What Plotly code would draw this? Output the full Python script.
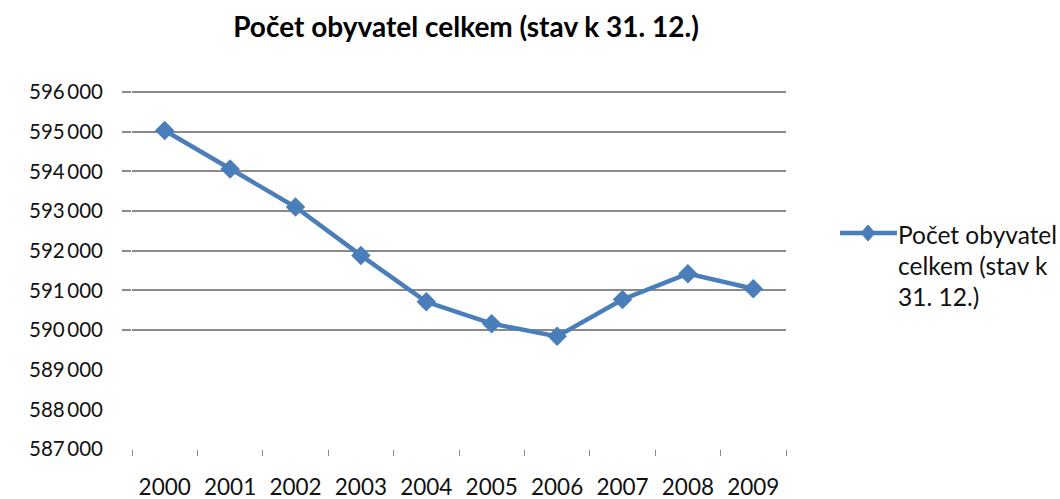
import plotly.graph_objects as go

years = ["2000", "2001", "2002", "2003", "2004", "2005", "2006", "2007", "2008", "2009"]
population = [595030, 594060, 593100, 591880, 590710, 590160, 589840, 590770, 591420, 591040]
series_name = "Počet obyvatel<br>celkem (stav k<br>31. 12.)"
title_text = "Počet obyvatel celkem (stav k 31. 12.)"
y_ticks = [587000, 588000, 589000, 590000, 591000, 592000, 593000, 594000, 595000, 596000]
y_tick_text = ["587\u2009000", "588\u2009000", "589\u2009000", "590\u2009000", "591\u2009000",
               "592\u2009000", "593\u2009000", "594\u2009000", "595\u2009000", "596\u2009000"]
grid_ticks = [590000, 591000, 592000, 593000, 594000, 595000, 596000]

FONT = "Lato"
BLUE = "#4a7ebb"
GRID = "#8a8a8a"

W, H = 1060, 499
EXT = 3                                      # px of headroom so the top gridline is drawn
PL, PR, PT, PB = 132, 786, 92, 449           # plot area in page pixels (596000 at PT)
y_lo, y_hi = y_ticks[0], y_ticks[-1]
yr = [y_lo, y_hi + (y_hi - y_lo) * EXT / (PB - PT)]
L, R, T, B = PL, W - PR, PT - EXT, H - PB
PW, PH = W - L - R, H - T - B


def px_x(p):
    return (p - L) / PW


def px_y(p):
    return 1 - (p - T) / PH


fig = go.Figure()
fig.add_trace(go.Scatter(
    x=years, y=population, mode="lines+markers", name=series_name,
    line=dict(color=BLUE, width=4.5),
    marker=dict(symbol="diamond", size=15, color=BLUE),
    showlegend=False,
))
fig.add_trace(go.Scatter(x=years, y=population, yaxis="y2", mode="none",
                         showlegend=False, hoverinfo="skip"))

# custom legend (line with diamond + wrapped text)
lx, ly = px_x(868), px_y(233)
fig.add_shape(type="line", xref="paper", yref="paper", xsizemode="pixel", ysizemode="pixel",
              xanchor=lx, yanchor=ly, x0=-28, x1=29, y0=0, y1=0,
              line=dict(color=BLUE, width=4.5))
fig.add_shape(type="path", xref="paper", yref="paper", xsizemode="pixel", ysizemode="pixel",
              xanchor=lx, yanchor=ly, path="M 0 8 L 7 0 L 0 -8 L -7 0 Z",
              fillcolor=BLUE, line=dict(color=BLUE, width=1))
for line_text, yy in zip(series_name.split("<br>"), [234, 265, 296]):
    fig.add_annotation(text=line_text, xref="paper", yref="paper", x=px_x(896), y=px_y(yy),
                       xanchor="left", yanchor="middle", align="left", showarrow=False,
                       font=dict(family=FONT, size=24.5, color="#111111"))

fig.update_layout(
    width=W, height=H,
    margin=dict(l=L, r=R, t=T, b=B, autoexpand=False),
    paper_bgcolor="white", plot_bgcolor="white",
    font=dict(family=FONT, size=20.5, color="#111111"),
    title=dict(text="<b>" + title_text + "</b>", x=466 / W, xref="container", xanchor="center",
               y=1 - 27 / H, yref="container", yanchor="middle",
               font=dict(family=FONT, size=28, color="#000000")),
    xaxis=dict(type="category", range=[-0.5, 9.5], showgrid=False, showline=False,
               ticks="outside", tickson="boundaries", ticklen=6, tickcolor=GRID,
               ticklabelstandoff=22, zeroline=False, automargin=False,
               tickfont=dict(size=22.5)),
    yaxis=dict(range=yr, tickvals=y_ticks, ticktext=y_tick_text,
               showgrid=False, showline=False, zeroline=False, ticks="",
               ticklabelstandoff=28, automargin=False),
    yaxis2=dict(range=yr, overlaying="y", side="left", tickvals=grid_ticks,
                showticklabels=False, showgrid=True, gridcolor=GRID, gridwidth=1.5,
                ticks="outside", ticklen=9, tickcolor=GRID, tickwidth=1.5,
                showline=False, zeroline=False, automargin=False),
    showlegend=False,
)

fig.write_html("out.html", config={"displayModeBar": False},
               post_script="document.body.style.margin='0';document.body.style.overflow='hidden';")
